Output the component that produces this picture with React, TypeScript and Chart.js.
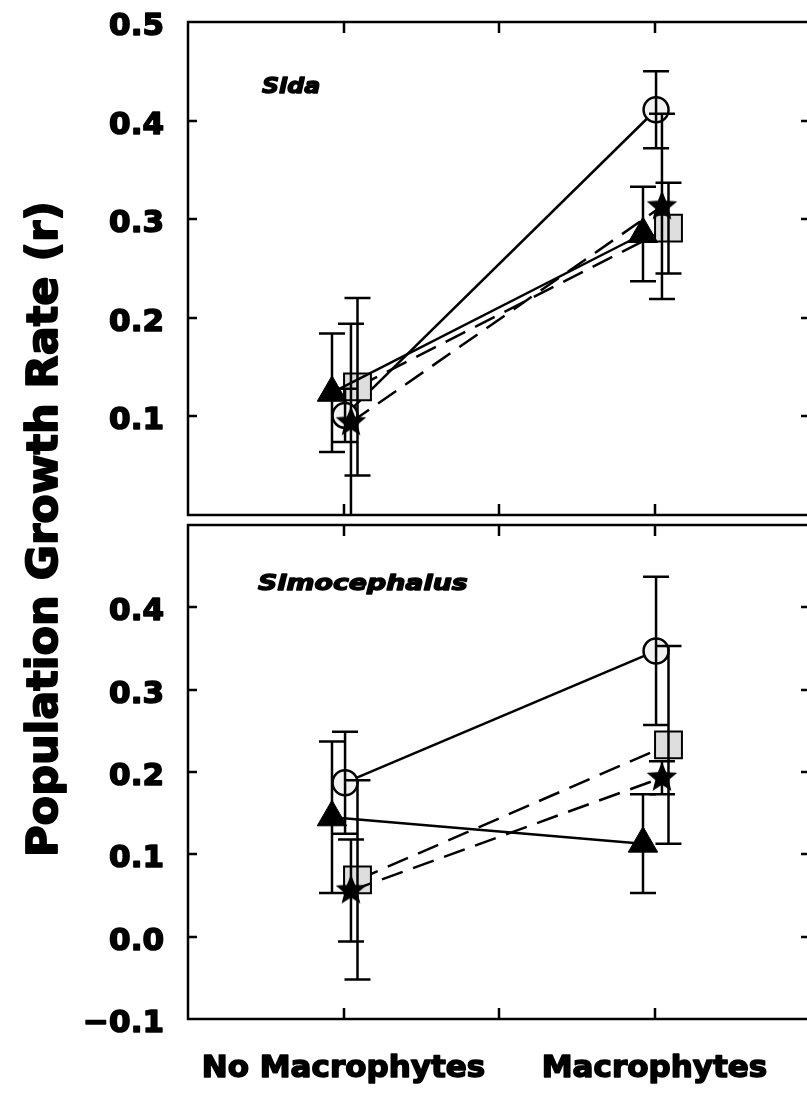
import { useEffect, useRef } from 'react';
import { Chart, registerables } from 'chart.js';

Chart.register(...registerables);

// Treatment categories sit at x = 1 and x = 3 on a 0..4 axis
const CATEGORIES = ['No Macrophytes', 'Macrophytes'];
const CATEGORY_X = [1, 3];
const X_MARKS = [1, 2, 3];

// Sida panel: means and error half-widths (r per day)
const SIDA_CIRCLE = [0.101, 0.411];
const SIDA_CIRCLE_ERR = [0.027, 0.039];
const SIDA_TRIANGLE = [0.124, 0.285];
const SIDA_TRIANGLE_ERR = [0.06, 0.048];
const SIDA_SQUARE = [0.13, 0.291];
const SIDA_SQUARE_ERR = [0.09, 0.046];
const SIDA_STAR = [0.094, 0.313];
const SIDA_STAR_ERR = [0.1, 0.094];

// Simocephalus panel
const SIMO_CIRCLE = [0.187, 0.347];
const SIMO_CIRCLE_ERR = [0.062, 0.09];
const SIMO_TRIANGLE = [0.145, 0.113];
const SIMO_TRIANGLE_ERR = [0.092, 0.06];
const SIMO_SQUARE = [0.069, 0.233];
const SIMO_SQUARE_ERR = [0.121, 0.12];
const SIMO_STAR = [0.056, 0.193];
const SIMO_STAR_ERR = [0.062, 0.02];

// Axis ranges and tick labels
const SIDA_RANGE = [0, 0.5];
const SIMO_RANGE = [-0.1, 0.5];
const SIDA_TICKS = [0.1, 0.2, 0.3, 0.4, 0.5];
const SIMO_TICKS = [-0.1, 0.0, 0.1, 0.2, 0.3, 0.4];

const Y_TITLE = 'Population Growth Rate (r)';
const SIDA_NAME = 'Sida';
const SIMO_NAME = 'Simocephalus';

const FONT = '"DejaVu Sans", "Liberation Sans", Arial, sans-serif';
const CAP = 13;
const STROKE = 2.5;

function starImage(outer: number, inner: number): HTMLCanvasElement {
  const size = Math.ceil(outer * 2 + 2);
  const c = document.createElement('canvas');
  c.width = size;
  c.height = size;
  const ctx = c.getContext('2d')!;
  ctx.translate(size / 2, size / 2);
  ctx.beginPath();
  for (let i = 0; i < 10; i++) {
    const r = i % 2 === 0 ? outer : inner;
    const a = -Math.PI / 2 + (i * Math.PI) / 5;
    const px = r * Math.cos(a);
    const py = r * Math.sin(a);
    if (i === 0) ctx.moveTo(px, py);
    else ctx.lineTo(px, py);
  }
  ctx.closePath();
  ctx.fillStyle = '#000';
  ctx.fill();
  return c;
}

function fmt(v: number): string {
  const s = Math.abs(v).toFixed(1);
  return v < -1e-9 ? '\u2212' + s : s;
}

// heavy text: fill plus a thin outline of the same colour
function heavyText(ctx: CanvasRenderingContext2D, text: string, x: number, y: number, weight: number) {
  ctx.lineWidth = weight;
  ctx.lineJoin = 'round';
  ctx.strokeText(text, x, y);
  ctx.fillText(text, x, y);
}

type PanelData = {
  circle: number[]; circleErr: number[];
  triangle: number[]; triangleErr: number[];
  square: number[]; squareErr: number[];
  star: number[]; starErr: number[];
};

function buildDatasets(p: PanelData) {
  const star = starImage(16, 7);
  const pts = (vals: number[], offset: number) =>
    vals.map((v, i) => ({ x: CATEGORY_X[i] + offset, y: v }));
  const common = {
    borderColor: '#000',
    borderWidth: STROKE,
    fill: false,
    tension: 0,
    pointBorderColor: '#000',
  };
  // index 0 is painted last, so it sits on top
  return [
    {
      ...common,
      label: 'star',
      data: pts(p.star, 0.048),
      errorBars: p.starErr,
      borderDash: [22, 11],
      pointStyle: star,
      pointRadius: 16,
    },
    {
      ...common,
      label: 'triangle',
      data: pts(p.triangle, -0.074),
      errorBars: p.triangleErr,
      pointStyle: 'triangle',
      pointRadius: 17,
      pointBackgroundColor: '#000',
      pointBorderWidth: 1,
    },
    {
      ...common,
      label: 'square',
      data: pts(p.square, 0.09),
      errorBars: p.squareErr,
      borderDash: [22, 11],
      pointStyle: 'rect',
      pointRadius: 19,
      pointBackgroundColor: '#dedede',
      pointBorderWidth: 2,
    },
    {
      ...common,
      label: 'circle',
      data: pts(p.circle, 0.01),
      errorBars: p.circleErr,
      pointStyle: 'circle',
      pointRadius: 12.5,
      pointBackgroundColor: '#f2f2f2',
      pointBorderWidth: 2.5,
    },
  ];
}

type DecorOpts = {
  name: string;
  nameX: number;
  nameBaseline: number;
  nameScale: number;
  ticks: number[];
  categoryBaseline?: number;
  title?: { x: number; y: number };
};

function panelDecor(o: DecorOpts) {
  return {
    id: 'panelDecor',
    afterDatasetsDraw(chart: any) {
      const { ctx, chartArea: a } = chart;
      const y = chart.scales.y;
      ctx.save();
      ctx.beginPath();
      ctx.rect(a.left, a.top, a.right - a.left, a.bottom - a.top);
      ctx.clip();
      ctx.strokeStyle = '#000';
      ctx.lineWidth = STROKE;
      chart.data.datasets.forEach((ds: any, di: number) => {
        const meta = chart.getDatasetMeta(di);
        meta.data.forEach((pt: any, i: number) => {
          const raw = ds.data[i];
          const e = ds.errorBars[i];
          const px = pt.x;
          const top = y.getPixelForValue(raw.y + e);
          const bot = y.getPixelForValue(raw.y - e);
          ctx.beginPath();
          ctx.moveTo(px, top);
          ctx.lineTo(px, bot);
          ctx.moveTo(px - CAP, top);
          ctx.lineTo(px + CAP, top);
          ctx.moveTo(px - CAP, bot);
          ctx.lineTo(px + CAP, bot);
          ctx.stroke();
        });
      });
      ctx.restore();
    },
    afterDraw(chart: any) {
      const { ctx, chartArea: a } = chart;
      const x = chart.scales.x;
      const y = chart.scales.y;
      ctx.save();
      ctx.strokeStyle = '#000';
      ctx.fillStyle = '#000';
      ctx.lineWidth = STROKE;
      ctx.strokeRect(a.left, a.top, a.right - a.left, a.bottom - a.top);

      // inward tick marks
      ctx.beginPath();
      for (const v of o.ticks) {
        if (v <= y.min + 1e-9 || v >= y.max - 1e-9) continue;
        const py = Math.round(y.getPixelForValue(v));
        ctx.moveTo(a.left, py);
        ctx.lineTo(a.left + 9, py);
        ctx.moveTo(a.right - 9, py);
        ctx.lineTo(a.right, py);
      }
      for (const v of X_MARKS) {
        const px = Math.round(x.getPixelForValue(v));
        ctx.moveTo(px, a.top);
        ctx.lineTo(px, a.top + 11);
        ctx.moveTo(px, a.bottom - 11);
        ctx.lineTo(px, a.bottom);
      }
      ctx.stroke();

      // y tick labels
      ctx.font = `bold 31px ${FONT}`;
      ctx.textAlign = 'right';
      ctx.textBaseline = 'alphabetic';
      for (const v of o.ticks) {
        const py = y.getPixelForValue(v);
        heavyText(ctx, fmt(v), 164, py + 13, 1.6);
      }

      // panel name
      ctx.save();
      ctx.translate(o.nameX, o.nameBaseline);
      ctx.scale(o.nameScale, 1);
      ctx.font = `italic bold 22px ${FONT}`;
      ctx.textAlign = 'left';
      heavyText(ctx, o.name, 0, 0, 1.4);
      ctx.restore();

      // category labels under the lower panel
      if (o.categoryBaseline !== undefined) {
        ctx.font = `bold 31px ${FONT}`;
        ctx.textAlign = 'center';
        CATEGORIES.forEach((c, i) => {
          heavyText(ctx, c, x.getPixelForValue(CATEGORY_X[i]), o.categoryBaseline!, 1.6);
        });
      }

      // shared y-axis title
      if (o.title) {
        ctx.save();
        ctx.translate(o.title.x, o.title.y);
        ctx.rotate(-Math.PI / 2);
        ctx.font = `bold 43px ${FONT}`;
        ctx.textAlign = 'center';
        heavyText(ctx, Y_TITLE, 0, 0, 1.8);
        ctx.restore();
      }
      ctx.restore();
    },
  };
}

function makeChart(
  canvas: HTMLCanvasElement,
  data: PanelData,
  range: number[],
  padding: { left: number; right: number; top: number; bottom: number },
  decor: DecorOpts
) {
  return new Chart(canvas, {
    type: 'line',
    data: { datasets: buildDatasets(data) as any },
    options: {
      responsive: false,
      animation: false,
      events: [],
      layout: { padding, autoPadding: false },
      scales: {
        x: { type: 'linear', min: 0, max: 4, display: false },
        y: { type: 'linear', min: range[0], max: range[1], display: false },
      },
      plugins: {
        legend: { display: false },
        tooltip: { enabled: false },
        title: { display: false },
      },
    },
    plugins: [panelDecor(decor)],
  });
}

export default function App() {
  const topRef = useRef<HTMLCanvasElement>(null);
  const botRef = useRef<HTMLCanvasElement>(null);

  useEffect(() => {
    const top = makeChart(
      topRef.current!,
      {
        circle: SIDA_CIRCLE, circleErr: SIDA_CIRCLE_ERR,
        triangle: SIDA_TRIANGLE, triangleErr: SIDA_TRIANGLE_ERR,
        square: SIDA_SQUARE, squareErr: SIDA_SQUARE_ERR,
        star: SIDA_STAR, starErr: SIDA_STAR_ERR,
      },
      SIDA_RANGE,
      { left: 188, right: 1, top: 22, bottom: 365 },
      {
        name: SIDA_NAME,
        nameX: 262,
        nameBaseline: 93,
        nameScale: 1.08,
        ticks: SIDA_TICKS,
        title: { x: 57, y: 529 },
      }
    );
    const bot = makeChart(
      botRef.current!,
      {
        circle: SIMO_CIRCLE, circleErr: SIMO_CIRCLE_ERR,
        triangle: SIMO_TRIANGLE, triangleErr: SIMO_TRIANGLE_ERR,
        square: SIMO_SQUARE, squareErr: SIMO_SQUARE_ERR,
        star: SIMO_STAR, starErr: SIMO_STAR_ERR,
      },
      SIMO_RANGE,
      { left: 188, right: 1, top: 6, bottom: 79 },
      {
        name: SIMO_NAME,
        nameX: 258,
        nameBaseline: 71,
        nameScale: 1.22,
        ticks: SIMO_TICKS,
        categoryBaseline: 558,
      }
    );
    return () => {
      top.destroy();
      bot.destroy();
    };
  }, []);

  return (
    <div
      style={{
        position: 'absolute',
        left: 0,
        top: 0,
        width: 807,
        height: 1098,
        overflow: 'hidden',
        background: '#fff',
      }}
    >
      <canvas
        ref={botRef}
        width={811}
        height={579}
        style={{ position: 'absolute', left: 0, top: 519 }}
      />
      <canvas
        ref={topRef}
        width={811}
        height={880}
        style={{ position: 'absolute', left: 0, top: 0, pointerEvents: 'none' }}
      />
    </div>
  );
}
